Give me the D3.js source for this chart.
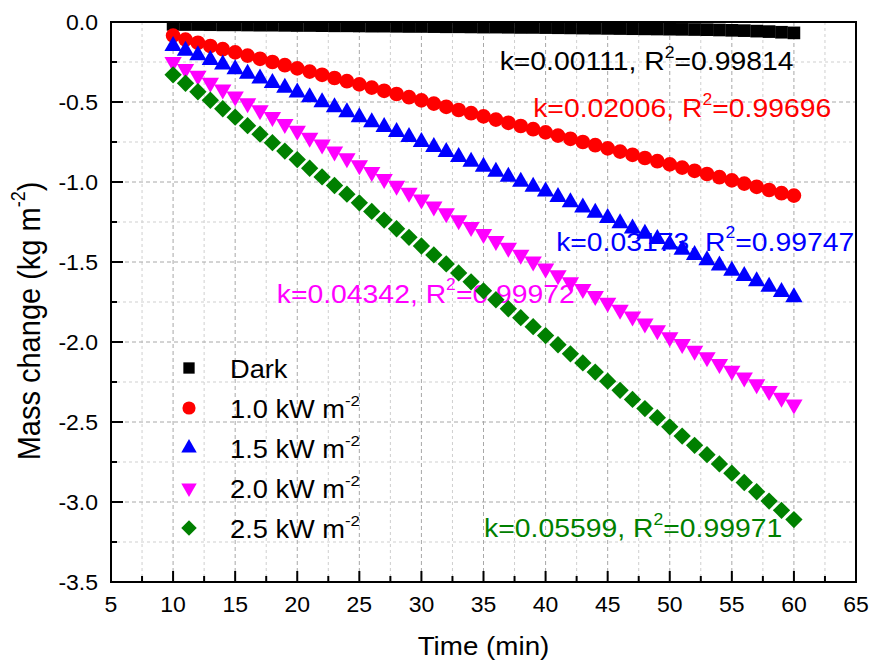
<!DOCTYPE html>
<html>
<head>
<meta charset="utf-8">
<script src="https://cdn.jsdelivr.net/npm/d3@7"></script>
<style>
  body { margin: 0; background: #fff; }
  svg { display: block; font-family: "Liberation Sans", Arial, sans-serif; }
</style>
</head>
<body>
<div id="graph"></div>
<script>
// Time axis (min)
var time = [10, 11, 12, 13, 14, 15, 16, 17, 18, 19, 20, 21, 22, 23, 24, 25, 26, 27, 28, 29, 30,
  31, 32, 33, 34, 35, 36, 37, 38, 39, 40, 41, 42, 43, 44, 45, 46, 47, 48, 49, 50,
  51, 52, 53, 54, 55, 56, 57, 58, 59, 60];

// Mass change (kg m-2)
var dark = [-0.015, -0.016, -0.016, -0.017, -0.018, -0.018, -0.019, -0.020, -0.020, -0.021, -0.022,
  -0.022, -0.023, -0.024, -0.024, -0.025, -0.026, -0.026, -0.027, -0.028, -0.028,
  -0.029, -0.030, -0.030, -0.031, -0.032, -0.032, -0.033, -0.034, -0.034, -0.035,
  -0.036, -0.037, -0.038, -0.039, -0.040, -0.041, -0.042, -0.043, -0.044, -0.045,
  -0.046, -0.047, -0.048, -0.050, -0.052, -0.054, -0.057, -0.060, -0.064, -0.068];
var sun10 = [-0.085, -0.11, -0.13, -0.15, -0.17, -0.19, -0.21, -0.23, -0.25, -0.27, -0.29,
  -0.31, -0.33, -0.35, -0.37, -0.39, -0.41, -0.43, -0.45, -0.47, -0.49,
  -0.51, -0.53, -0.55, -0.57, -0.59, -0.61, -0.63, -0.65, -0.67, -0.69,
  -0.71, -0.73, -0.75, -0.77, -0.79, -0.81, -0.83, -0.85, -0.87, -0.89,
  -0.91, -0.93, -0.95, -0.97, -0.99, -1.01, -1.03, -1.05, -1.07, -1.085];
var sun15 = [-0.15, -0.179, -0.208, -0.237, -0.266, -0.295, -0.324, -0.353, -0.382, -0.411, -0.44,
  -0.471, -0.502, -0.533, -0.564, -0.595, -0.626, -0.657, -0.688, -0.719, -0.75,
  -0.781, -0.812, -0.843, -0.874, -0.905, -0.936, -0.967, -0.998, -1.029, -1.06,
  -1.093, -1.126, -1.159, -1.192, -1.225, -1.258, -1.291, -1.324, -1.357, -1.39,
  -1.423, -1.456, -1.489, -1.522, -1.555, -1.588, -1.621, -1.654, -1.687, -1.72];
var sun20 = [-0.25, -0.293, -0.336, -0.379, -0.422, -0.465, -0.508, -0.551, -0.594, -0.637, -0.68,
  -0.723, -0.766, -0.809, -0.852, -0.895, -0.938, -0.981, -1.024, -1.067, -1.11,
  -1.153, -1.196, -1.239, -1.282, -1.325, -1.368, -1.411, -1.454, -1.497, -1.54,
  -1.583, -1.626, -1.669, -1.712, -1.755, -1.798, -1.841, -1.884, -1.927, -1.97,
  -2.012, -2.054, -2.096, -2.138, -2.18, -2.222, -2.264, -2.306, -2.348, -2.39];
var sun25 = [-0.33, -0.383, -0.436, -0.489, -0.542, -0.595, -0.648, -0.701, -0.754, -0.807, -0.86,
  -0.914, -0.968, -1.022, -1.076, -1.13, -1.184, -1.238, -1.292, -1.346, -1.40,
  -1.456, -1.512, -1.568, -1.624, -1.68, -1.736, -1.792, -1.848, -1.904, -1.96,
  -2.017, -2.074, -2.131, -2.188, -2.245, -2.302, -2.359, -2.416, -2.473, -2.53,
  -2.588, -2.646, -2.704, -2.762, -2.82, -2.878, -2.936, -2.994, -3.052, -3.11];

var seriesNames = ["Dark", "1.0 kW m", "1.5 kW m", "2.0 kW m", "2.5 kW m"];
var kValues = ["0.00111", "0.02006", "0.03173", "0.04342", "0.05599"];
var r2Values = ["0.99814", "0.99696", "0.99747", "0.99972", "0.99971"];
// where each fit label starts, in data units (time, mass change)
var labelTime = [36.3, 39.0, 40.85, 18.35, 35.05];
var labelValue = [-0.30, -0.595, -1.43, -1.755, -3.22];

var xTicks = [5, 10, 15, 20, 25, 30, 35, 40, 45, 50, 55, 60, 65];
var yTicks = [0, -0.5, -1.0, -1.5, -2.0, -2.5, -3.0, -3.5];

var colors = ["#000000", "#ff0000", "#0000ff", "#ff00ff", "#008000"];
var shapes = ["square", "circle", "up", "down", "diamond"];

var width = 872, height = 664;
var pLeft = 111, pRight = 856, pTop = 22, pBottom = 582;

var svg = d3.select("#graph").append("svg")
  .attr("width", width)
  .attr("height", height);

var x = d3.scaleLinear().domain([5, 65]).range([pLeft, pRight]);
var y = d3.scaleLinear().domain([-3.5, 0]).range([pBottom, pTop]);

// marker shapes (s scales the area)
function marker(shape, s) {
  if (shape == "square") return d3.symbol(d3.symbolSquare, s * 160)();
  if (shape == "circle") return d3.symbol(d3.symbolCircle, s * 170)();
  if (shape == "up") return d3.symbol(d3.symbolTriangle, s * 130)();
  if (shape == "down") return d3.symbol(d3.symbolTriangle, s * 130)();
  return d3.symbol(d3.symbolSquare, s * 150)();
}
function rot(shape) {
  if (shape == "down") return " rotate(180)";
  if (shape == "diamond") return " rotate(45)";
  return "";
}

// grid
var xMinor = d3.range(7.5, 65, 5);
var yMinor = d3.range(-3.25, 0, 0.5);
var grid = svg.append("g");
grid.selectAll(".xm").data(xMinor).enter().append("line")
  .attr("x1", d => x(d)).attr("x2", d => x(d)).attr("y1", pTop).attr("y2", pBottom)
  .attr("stroke", "#cfcfcf").attr("stroke-width", 1).attr("stroke-dasharray", "3,3");
grid.selectAll(".ym").data(yMinor).enter().append("line")
  .attr("y1", d => y(d)).attr("y2", d => y(d)).attr("x1", pLeft).attr("x2", pRight)
  .attr("stroke", "#cfcfcf").attr("stroke-width", 1).attr("stroke-dasharray", "3,3");
grid.selectAll(".xM").data(xTicks.slice(1, -1)).enter().append("line")
  .attr("x1", d => x(d)).attr("x2", d => x(d)).attr("y1", pTop).attr("y2", pBottom)
  .attr("stroke", "#a8a8a8").attr("stroke-width", 1).attr("stroke-dasharray", "4,3");
grid.selectAll(".yM").data(yTicks.slice(1, -1)).enter().append("line")
  .attr("y1", d => y(d)).attr("y2", d => y(d)).attr("x1", pLeft).attr("x2", pRight)
  .attr("stroke", "#a8a8a8").attr("stroke-width", 1).attr("stroke-dasharray", "4,3");

// superscript helper
function addText(g, parts, fs) {
  parts.forEach(function(p) {
    var t = g.append("tspan").text(p[0]);
    if (p[1]) t.attr("font-size", fs * 0.62).attr("dy", -fs * 0.48);
    else if (p[2]) t.attr("dy", fs * 0.48);
  });
}

// fit labels
for (var i = 0; i < 5; i++) {
  var t = svg.append("text")
    .attr("transform", "translate(" + x(labelTime[i]) + "," + y(labelValue[i]) + ") scale(1.09,1)")
    .attr("font-size", 26)
    .attr("fill", colors[i]);
  addText(t, [["k=" + kValues[i] + ", R"], ["2", true], ["=" + r2Values[i], false, true]], 26);
}

// data markers
svg.append("clipPath").attr("id", "plotclip")
  .append("rect").attr("x", pLeft).attr("y", pTop).attr("width", pRight - pLeft).attr("height", pBottom - pTop);
var allSeries = [dark, sun10, sun15, sun20, sun25];
var plot = svg.append("g").attr("clip-path", "url(#plotclip)");
allSeries.forEach(function(vals, i) {
  plot.append("g").selectAll("path").data(time).enter().append("path")
    .attr("d", marker(shapes[i], 1))
    .attr("transform", (d, j) => "translate(" + x(d) + "," + y(vals[j]) + ")" + rot(shapes[i]))
    .attr("fill", colors[i]);
});

// frame and ticks
svg.append("rect")
  .attr("x", pLeft).attr("y", pTop).attr("width", pRight - pLeft).attr("height", pBottom - pTop)
  .attr("fill", "none").attr("stroke", "#000").attr("stroke-width", 2);

var ticks = svg.append("g").attr("stroke", "#000").attr("stroke-width", 2);
ticks.selectAll(".xt").data(xTicks).enter().append("line")
  .attr("x1", d => x(d)).attr("x2", d => x(d)).attr("y1", pBottom).attr("y2", pBottom - 11);
ticks.selectAll(".xn").data(xMinor).enter().append("line")
  .attr("x1", d => x(d)).attr("x2", d => x(d)).attr("y1", pBottom).attr("y2", pBottom - 6);
ticks.selectAll(".yt").data(yTicks).enter().append("line")
  .attr("y1", d => y(d)).attr("y2", d => y(d)).attr("x1", pLeft).attr("x2", pLeft + 12);
ticks.selectAll(".yn").data(yMinor).enter().append("line")
  .attr("y1", d => y(d)).attr("y2", d => y(d)).attr("x1", pLeft).attr("x2", pLeft + 6);

// tick labels
svg.selectAll(".xl").data(xTicks).enter().append("text")
  .attr("transform", d => "translate(" + x(d) + "," + (pBottom + 30) + ") scale(1.07,1)")
  .attr("text-anchor", "middle").attr("font-size", 21.5)
  .text(d => d);
svg.selectAll(".yl").data(yTicks).enter().append("text")
  .attr("transform", d => "translate(" + (pLeft - 13) + "," + y(d) + ") scale(1.07,1)")
  .attr("text-anchor", "end").attr("dy", "0.35em").attr("font-size", 21.5)
  .text(d => d.toFixed(1));

// axis titles
svg.append("text")
  .attr("transform", "translate(" + ((pLeft + pRight) / 2) + ",655) scale(1.09,1)")
  .attr("text-anchor", "middle").attr("font-size", 25.5)
  .text("Time (min)");
var yt = svg.append("text")
  .attr("transform", "translate(40,321) scale(1.09,1) rotate(-90)")
  .attr("text-anchor", "middle").attr("font-size", 29);
addText(yt, [["Mass change (kg m"], ["-2", true], [")", false, true]], 29);

// legend
var legend = svg.append("g");
seriesNames.forEach(function(name, i) {
  var cy = 368 + i * 40;
  legend.append("path")
    .attr("d", marker(shapes[i], 0.8))
    .attr("transform", "translate(189," + cy + ")" + rot(shapes[i]))
    .attr("fill", colors[i]);
  var t = legend.append("text")
    .attr("transform", "translate(230," + (cy + 10) + ") scale(1.09,1)")
    .attr("font-size", 25);
  if (i == 0) t.text(name);
  else addText(t, [[name], ["-2", true]], 25);
});
</script>
</body>
</html>
